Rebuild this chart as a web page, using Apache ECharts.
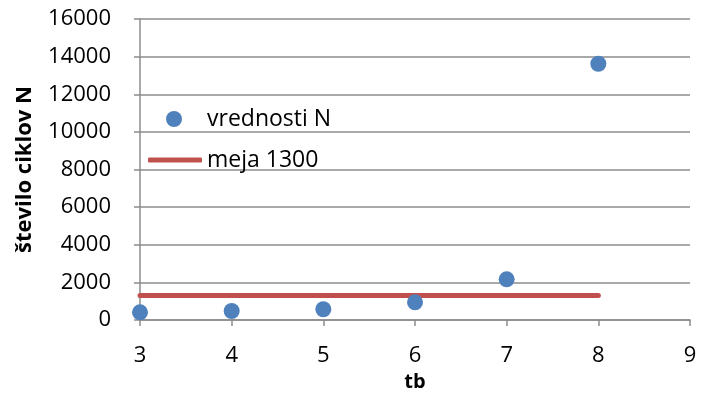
<!DOCTYPE html>
<html>
<head>
<meta charset="utf-8">
<script src="https://cdn.jsdelivr.net/npm/echarts@6/dist/echarts.min.js"></script>
<style>
  html, body { margin: 0; padding: 0; background: #fff; }
  #chart { width: 702px; height: 407px; }
</style>
</head>
<body>
<div id="chart"></div>
<script>
// tb values and the measured number of cycles N
const tb = [3, 4, 5, 6, 7, 8];
const vrednostiN = [410, 480, 570, 940, 2160, 13620];
// limit line: constant 1300 from tb = 3 to tb = 8
const mejaTb = [3, 8];
const mejaValue = 1300;

const FONT = '"Open Sans", "Liberation Sans", sans-serif';
const GRID_COLOR = '#8c8c8c';

const chart = echarts.init(document.getElementById('chart'), null, { renderer: 'canvas' });

chart.setOption({
  animation: false,
  backgroundColor: '#ffffff',
  textStyle: { fontFamily: FONT },
  grid: { left: 140, right: 12, top: 19, bottom: 87 },
  legend: [
    {
      data: [{ name: 'vrednosti N', icon: 'circle' }],
      left: 161, top: 102,
      itemWidth: 16, itemHeight: 16,
      textStyle: { fontSize: 23, color: '#000', fontFamily: FONT, lineHeight: 24, padding: [0, 0, 0, 20] }
    },
    {
      data: [{ name: 'meja 1300', icon: 'roundRect' }],
      left: 143, top: 143,
      itemWidth: 54, itemHeight: 5,
      textStyle: { fontSize: 23, color: '#000', fontFamily: FONT, lineHeight: 24 }
    }
  ],
  xAxis: {
    type: 'value',
    min: 3, max: 9, interval: 1,
    name: 'tb',
    nameLocation: 'middle',
    nameGap: 43,
    nameTextStyle: { fontSize: 20, fontWeight: 'bold', color: '#000', fontFamily: FONT },
    axisLine: { show: true, onZero: false, lineStyle: { color: GRID_COLOR, width: 1.5 } },
    axisTick: { show: true, length: 6, lineStyle: { color: GRID_COLOR, width: 1.5 } },
    axisLabel: { fontSize: 22, color: '#000', margin: 25, fontFamily: FONT },
    splitLine: { show: false }
  },
  yAxis: {
    type: 'value',
    min: 0, max: 16000, interval: 2000,
    name: 'število ciklov N',
    nameLocation: 'middle',
    nameGap: 104,
    nameRotate: 90,
    nameTextStyle: { fontSize: 22, fontWeight: 'bold', color: '#000', fontFamily: FONT },
    axisLine: { show: true, lineStyle: { color: GRID_COLOR, width: 1.5 } },
    axisTick: { show: true, length: 6, inside: false, lineStyle: { color: GRID_COLOR, width: 1.5 } },
    axisLabel: { fontSize: 22, color: '#000', margin: 29, fontFamily: FONT, formatter: v => String(v) },
    splitLine: { show: true, lineStyle: { color: GRID_COLOR, width: 1.5 } }
  },
  series: [
    {
      name: 'vrednosti N',
      type: 'scatter',
      symbol: 'circle',
      symbolSize: 16,
      itemStyle: { color: '#4F81BD', opacity: 1 },
      data: tb.map((x, i) => [x, vrednostiN[i]]),
      z: 3
    },
    {
      name: 'meja 1300',
      type: 'line',
      showSymbol: false,
      symbol: 'none',
      lineStyle: { color: '#C0504D', width: 5, cap: 'round' },
      itemStyle: { color: '#C0504D' },
      data: mejaTb.map(x => [x, mejaValue]),
      z: 2
    }
  ]
});
</script>
</body>
</html>
